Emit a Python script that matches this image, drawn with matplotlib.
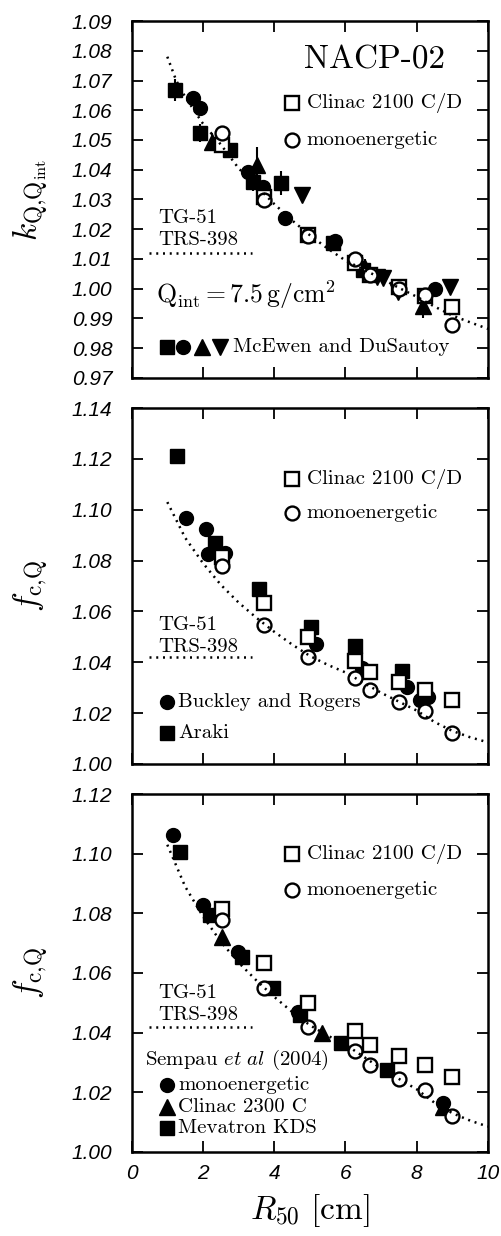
import matplotlib
matplotlib.use("Agg")
import matplotlib.pyplot as plt

plt.rcParams['mathtext.fontset'] = 'cm'
plt.rcParams['axes.formatter.use_mathtext'] = True

# ---- data ----
# Clinac 2100 C/D (open squares) and monoenergetic (open circles), same R50
r50_sim = [2.53, 3.71, 4.96, 6.27, 6.69, 7.49, 8.23, 9.00]
kq_clinac = [1.0483, 1.0307, 1.0181, 1.0088, 1.0046, 1.0005, 0.9977, 0.9938]
kq_mono = [1.0522, 1.0298, 1.0178, 1.0099, 1.0045, 1.0000, 0.9978, 0.9878]
fc_clinac = [1.0813, 1.0634, 1.0501, 1.0406, 1.0360, 1.0323, 1.0292, 1.0252]
fc_mono = [1.0777, 1.0548, 1.0419, 1.0340, 1.0292, 1.0243, 1.0207, 1.0120]

# TG-51 / TRS-398 curves
r50_proto = [1.0, 1.25, 1.5, 2.0, 2.5, 3.0, 3.5, 4.0, 4.5, 5.0, 5.5, 6.0,
             6.5, 7.0, 7.5, 8.0, 8.5, 9.0, 9.5, 10.0]
kq_proto = [1.078, 1.070, 1.0645, 1.0555, 1.0485, 1.0405, 1.0345, 1.0285,
            1.023, 1.018, 1.0135, 1.0095, 1.0065, 1.0035, 1.0003, 0.9973,
            0.994, 0.991, 0.9887, 0.9865]
fc_proto = [1.103, 1.096, 1.089, 1.079, 1.0705, 1.0635, 1.0575, 1.052,
            1.047, 1.0425, 1.039, 1.036, 1.032, 1.028, 1.0245, 1.021,
            1.0165, 1.013, 1.0105, 1.0085]

# McEwen and DuSautoy (top panel)
mce_sq_x = [1.22, 1.92, 2.76, 3.41, 4.19, 5.66, 6.50]
mce_sq_y = [1.0668, 1.0523, 1.0466, 1.0360, 1.0356, 1.0155, 1.0063]
mce_sq_e = [0.0036, 0.0030, 0.0020, 0.0030, 0.0040, 0.0020, 0.0030]
mce_ci_x = [1.73, 1.92, 3.26, 3.69, 4.30, 5.70, 8.51]
mce_ci_y = [1.0640, 1.0607, 1.0393, 1.0343, 1.0237, 1.0160, 0.9998]
mce_ci_e = [0.0010, 0.0020, 0.0010, 0.0020, 0.0010, 0.0020, 0.0010]
mce_up_x = [2.25, 3.51, 6.55, 8.18]
mce_up_y = [1.0494, 1.0416, 1.0070, 0.9942]
mce_up_e = [0.0030, 0.0060, 0.0030, 0.0040]
mce_dn_x = [4.79, 6.88, 7.06, 7.47, 8.93]
mce_dn_y = [1.0315, 1.0039, 1.0035, 0.9988, 1.0005]
mce_dn_e = [0.0010, 0.0010, 0.0010, 0.0010, 0.0010]

# Buckley and Rogers / Araki (middle panel)
buck_x = [1.52, 2.08, 2.15, 2.62, 5.17, 6.45, 7.72, 8.09, 8.33]
buck_y = [1.0969, 1.0923, 1.0826, 1.0831, 1.0471, 1.0376, 1.0304, 1.0252, 1.0265]
araki_x = [1.26, 2.34, 3.57, 5.03, 6.27, 7.58]
araki_y = [1.1212, 1.0868, 1.0688, 1.0538, 1.0464, 1.0366]
araki_e = [0.001, 0.001, 0.001, 0.002, 0.002, 0.002]

# Sempau et al (2004) (bottom panel)
semp_mono_x = [1.17, 2.01, 2.99, 4.68, 8.75]
semp_mono_y = [1.1063, 1.0828, 1.0671, 1.0470, 1.0163]
semp_tri_x = [2.53, 5.33, 8.75]
semp_tri_y = [1.0722, 1.0398, 1.0152]
semp_kds_x = [1.36, 2.20, 3.09, 3.96, 4.72, 5.87, 7.17]
semp_kds_y = [1.1007, 1.0794, 1.0655, 1.0549, 1.0459, 1.0364, 1.0275]

ticks_top = [0.97, 0.98, 0.99, 1.00, 1.01, 1.02, 1.03, 1.04, 1.05, 1.06, 1.07, 1.08, 1.09]
ticks_mid = [1.00, 1.02, 1.04, 1.06, 1.08, 1.10, 1.12, 1.14]
ticks_bot = [1.00, 1.02, 1.04, 1.06, 1.08, 1.10, 1.12]
ticks_x = [0, 2, 4, 6, 8, 10]

# ---- figure ----
fig = plt.figure(figsize=(5.02, 12.36), dpi=100)
L, W = 0.2623, 0.7098
ax1 = fig.add_axes([L, 0.6942, W, 0.2888])
ax2 = fig.add_axes([L, 0.3819, W, 0.2880])
ax3 = fig.add_axes([L, 0.0680, W, 0.2896])

TF = dict(fontfamily='cmr10', fontsize=15)
tickfont = dict(fontfamily='Liberation Sans', fontstyle='italic', fontsize=15)
MS = 10
dotted = (0, (0.8, 1.9))


def style(ax, yt, ylim, xlab):
    ax.set_xlim(0, 10)
    ax.set_ylim(*ylim)
    ax.set_yticks(yt, labels=['%.2f' % v for v in yt], **tickfont)
    if xlab:
        ax.set_xticks(ticks_x, labels=[str(v) for v in ticks_x], **tickfont)
        ax.set_xlabel(r'$R_{50}\ \mathrm{[cm]}$', fontsize=24, labelpad=6)
    else:
        ax.set_xticks(ticks_x, labels=[])
    ax.tick_params(direction='in', length=8, width=1.3, top=True, right=True,
                   pad=14)
    ax.tick_params(axis='x', pad=9)
    for s in ax.spines.values():
        s.set_linewidth(1.8)


def sim_legend(ax, y1, y2):
    ax.plot([0.451], [y1], 's', ms=MS, mfc='white', mec='black', mew=1.7,
            transform=ax.transAxes, clip_on=False)
    ax.text(0.491, y1, 'Clinac 2100 C/D', transform=ax.transAxes, va='center', **TF)
    ax.plot([0.451], [y2], 'o', ms=MS, mfc='white', mec='black', mew=1.7,
            transform=ax.transAxes, clip_on=False)
    ax.text(0.491, y2, 'monoenergetic', transform=ax.transAxes, va='center', **TF)


def proto_legend(ax, yt, yr, yl):
    ax.text(0.074, yt, 'TG-51', transform=ax.transAxes, va='center', **TF)
    ax.text(0.074, yr, 'TRS-398', transform=ax.transAxes, va='center', **TF)
    ax.plot([0.049, 0.338], [yl, yl], color='black', lw=1.8, ls=dotted,
            transform=ax.transAxes)


def sim_points(ax, ysq, yci):
    ax.plot(r50_sim, ysq, 's', ms=MS, mfc='white', mec='black', mew=1.7, zorder=5)
    ax.plot(r50_sim, yci, 'o', ms=MS, mfc='white', mec='black', mew=1.7, zorder=5)


# top panel
ax1.plot(r50_proto, kq_proto, color='black', lw=1.8, ls=dotted, zorder=6)
eb = dict(fmt='none', ecolor='black', elinewidth=1.5, capsize=0, zorder=3)
for xs, ys, es, m, s in [(mce_sq_x, mce_sq_y, mce_sq_e, 's', MS),
                         (mce_ci_x, mce_ci_y, mce_ci_e, 'o', MS),
                         (mce_up_x, mce_up_y, mce_up_e, '^', MS + 1),
                         (mce_dn_x, mce_dn_y, mce_dn_e, 'v', MS + 1)]:
    ax1.errorbar(xs, ys, yerr=es, **eb)
    ax1.plot(xs, ys, m, ms=s, color='black', zorder=4)
sim_points(ax1, kq_clinac, kq_mono)
style(ax1, ticks_top, (0.97, 1.09), False)
ax1.set_ylabel(r'$k_{\mathrm{Q{,}Q_{int}}}$', fontsize=24)
ax1.yaxis.set_label_coords(-0.23, 0.5)
ax1.text(0.683, 0.892, 'NACP-02', transform=ax1.transAxes, ha='center',
         va='center', fontfamily='cmr10', fontsize=24)
sim_legend(ax1, 0.770, 0.667)
proto_legend(ax1, 0.448, 0.387, 0.351)
ax1.text(0.068, 0.232, r'$\mathrm{Q_{int}} = 7.5\,\mathrm{g/cm^2}$',
         transform=ax1.transAxes, va='center', fontsize=18.5)
for xf, m in zip([0.098, 0.145, 0.196, 0.248], ['s', 'o', '^', 'v']):
    ax1.plot([xf], [0.0877], m, ms=MS + (1 if m in '^v' else 0), color='black',
             transform=ax1.transAxes, clip_on=False)
ax1.text(0.285, 0.0877, 'McEwen and DuSautoy', transform=ax1.transAxes,
         va='center', **TF)

# middle panel
ax2.plot(r50_proto, fc_proto, color='black', lw=1.8, ls=dotted, zorder=6)
ax2.plot(buck_x, buck_y, 'o', ms=MS, color='black', zorder=3)
ax2.errorbar(araki_x, araki_y, yerr=araki_e, **eb)
ax2.plot(araki_x, araki_y, 's', ms=MS, color='black', zorder=4)
sim_points(ax2, fc_clinac, fc_mono)
style(ax2, ticks_mid, (1.00, 1.14), False)
ax2.set_ylabel(r'$f_{\mathrm{c{,}Q}}$', fontsize=24)
ax2.yaxis.set_label_coords(-0.23, 0.5)
sim_legend(ax2, 0.8006, 0.704)
proto_legend(ax2, 0.390, 0.3295, 0.2997)
ax2.plot([0.098], [0.175], 'o', ms=MS, color='black', transform=ax2.transAxes)
ax2.text(0.131, 0.175, 'Buckley and Rogers', transform=ax2.transAxes, va='center', **TF)
ax2.plot([0.098], [0.0862], 's', ms=MS, color='black', transform=ax2.transAxes)
ax2.text(0.131, 0.0862, 'Araki', transform=ax2.transAxes, va='center', **TF)

# bottom panel
ax3.plot(r50_proto, fc_proto, color='black', lw=1.8, ls=dotted, zorder=6)
ax3.plot(semp_mono_x, semp_mono_y, 'o', ms=MS, color='black', zorder=3)
ax3.plot(semp_tri_x, semp_tri_y, '^', ms=MS + 1, color='black', zorder=3)
ax3.plot(semp_kds_x, semp_kds_y, 's', ms=MS, color='black', zorder=4)
sim_points(ax3, fc_clinac, fc_mono)
style(ax3, ticks_bot, (1.00, 1.12), True)
ax3.set_ylabel(r'$f_{\mathrm{c{,}Q}}$', fontsize=24)
ax3.yaxis.set_label_coords(-0.23, 0.5)
sim_legend(ax3, 0.832, 0.732)
proto_legend(ax3, 0.443, 0.383, 0.350)
ax3.text(0.037, 0.257, r'Sempau $\mathit{et\ al}$ (2004)', transform=ax3.transAxes,
         va='center', **TF)
for yf, m, lab in [(0.187, 'o', 'monoenergetic'), (0.1265, '^', 'Clinac 2300 C'),
                   (0.066, 's', 'Mevatron KDS')]:
    ax3.plot([0.098], [yf], m, ms=MS + (1 if m == '^' else 0), color='black',
             transform=ax3.transAxes)
    ax3.text(0.131, yf, lab, transform=ax3.transAxes, va='center', **TF)

fig.savefig('out.png', dpi=100)
